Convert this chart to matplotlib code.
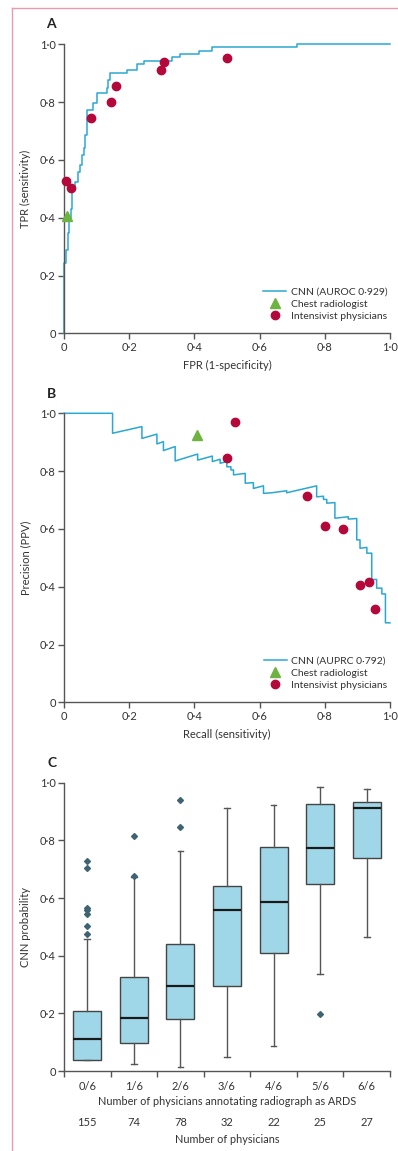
import matplotlib

matplotlib.use("Agg")
import matplotlib.pyplot as plt
from matplotlib.lines import Line2D
from matplotlib.ticker import FuncFormatter

# --- panel A: ROC curve (step corners) and reader operating points
roc_fpr = [0.0, 0.0, 0.007, 0.011, 0.016, 0.020, 0.024, 0.024, 0.035, 0.042, 0.050,
           0.055, 0.062, 0.065, 0.070, 0.089, 0.101, 0.132, 0.135, 0.140, 0.142,
           0.193, 0.224, 0.244, 0.331, 0.356, 0.415, 0.453, 0.714, 1.0]
roc_tpr = [0.0, 0.243, 0.288, 0.347, 0.400, 0.430, 0.461, 0.507, 0.525, 0.559, 0.582,
           0.617, 0.640, 0.686, 0.773, 0.796, 0.830, 0.848, 0.876, 0.888, 0.900,
           0.911, 0.932, 0.943, 0.955, 0.966, 0.978, 0.990, 1.0, 1.0]
roc_phys_fpr = [0.007, 0.020, 0.084, 0.143, 0.158, 0.297, 0.308, 0.500]
roc_phys_tpr = [0.528, 0.502, 0.745, 0.801, 0.856, 0.910, 0.938, 0.954]
roc_rad_fpr = [0.009]
roc_rad_tpr = [0.407]

# --- panel B: precision-recall curve (polyline vertices) and reader points
pr_recall = [0.0, 0.149, 0.149, 0.239, 0.239, 0.285, 0.285, 0.305, 0.305, 0.341, 0.341,
             0.410, 0.410, 0.455, 0.455, 0.479, 0.479, 0.4995, 0.4995, 0.512, 0.512,
             0.520, 0.520, 0.556, 0.556, 0.581, 0.581, 0.612, 0.612, 0.637, 0.683,
             0.683, 0.775, 0.775, 0.796, 0.796, 0.806, 0.806, 0.831, 0.831, 0.872,
             0.872, 0.898, 0.898, 0.908, 0.908, 0.929, 0.929, 0.944, 0.944, 0.959,
             0.959, 0.975, 0.975, 0.986, 0.986, 1.0]
pr_precision = [1.0, 1.0, 0.931, 0.954, 0.913, 0.928, 0.894, 0.902, 0.871, 0.885, 0.835,
                0.859, 0.838, 0.852, 0.833, 0.841, 0.827, 0.833, 0.815, 0.815, 0.804,
                0.804, 0.787, 0.792, 0.758, 0.760, 0.740, 0.749, 0.723, 0.725, 0.732,
                0.725, 0.749, 0.711, 0.713, 0.702, 0.702, 0.689, 0.691, 0.637, 0.642,
                0.634, 0.636, 0.562, 0.562, 0.533, 0.536, 0.516, 0.516, 0.425, 0.425,
                0.395, 0.395, 0.375, 0.375, 0.275, 0.275]
pr_phys_recall = [0.526, 0.500, 0.745, 0.801, 0.856, 0.909, 0.937, 0.954]
pr_phys_precision = [0.969, 0.846, 0.714, 0.611, 0.599, 0.407, 0.417, 0.323]
pr_rad_recall = [0.409]
pr_rad_precision = [0.926]

# --- panel C: CNN probability by physician agreement
groups = ["0/6", "1/6", "2/6", "3/6", "4/6", "5/6", "6/6"]
counts = [155, 74, 78, 32, 22, 25, 27]
q1 = [0.038, 0.098, 0.180, 0.296, 0.408, 0.649, 0.740]
med = [0.110, 0.185, 0.295, 0.558, 0.585, 0.773, 0.911]
q3 = [0.208, 0.327, 0.439, 0.643, 0.778, 0.925, 0.934]
whislo = [0.038, 0.024, 0.015, 0.050, 0.087, 0.336, 0.464]
whishi = [0.457, 0.674, 0.764, 0.913, 0.924, 0.986, 0.979]
fliers = [
    [0.730, 0.703, 0.566, 0.558, 0.543, 0.504, 0.476],
    [0.816, 0.676],
    [0.939, 0.846],
    [],
    [],
    [0.199],
    [],
]

CYAN = "#2aa8d2"
RED = "#b4083a"
GREEN = "#6cb33f"
AXIS = "#555555"
TEXT = "#333333"

plt.rcParams.update(
    {
        "font.family": ["Lato", "DejaVu Sans"],
        "font.size": 8,
        "text.color": TEXT,
        "axes.labelcolor": TEXT,
        "xtick.color": AXIS,
        "ytick.color": AXIS,
        "xtick.labelcolor": TEXT,
        "ytick.labelcolor": TEXT,
        "axes.edgecolor": AXIS,
        "axes.linewidth": 1.0,
    }
)


def dot_fmt(v, _pos=None):
    if abs(v) < 1e-9:
        return "0"
    return f"{v:.1f}".replace(".", "\u00b7")


def style_axes(ax):
    ax.spines["top"].set_visible(False)
    ax.spines["right"].set_visible(False)
    ax.tick_params(direction="out", length=4, width=1.0, pad=2, labelsize=8)
    ax.set_ylim(0, 1)
    ax.set_yticks([0, 0.2, 0.4, 0.6, 0.8, 1.0])
    ax.yaxis.set_major_formatter(FuncFormatter(dot_fmt))


W, H = 398, 1151
fig = plt.figure(figsize=(W / 100, H / 100), dpi=100)


def ax_rect(left, top, right, bottom):
    return [left / W, 1 - bottom / H, (right - left) / W, (bottom - top) / H]


# pink page frame
fig.add_artist(Line2D([12 / W, 1], [1 - 8 / H, 1 - 8 / H], color="#e99aae", lw=1.0))
fig.add_artist(Line2D([12 / W, 12 / W], [1 - 8 / H, 0], color="#e99aae", lw=1.0))

legend_kw = dict(loc="lower right", bbox_to_anchor=(1.02, 0.01), frameon=False,
                 handlelength=2.2, handletextpad=0.4, labelspacing=0.28, fontsize=7.5)

# ---------------- A
axA = fig.add_axes(ax_rect(64, 44.3, 390, 333.3))
style_axes(axA)
axA.set_xlim(0, 1)
axA.set_xticks([0, 0.2, 0.4, 0.6, 0.8, 1.0])
axA.xaxis.set_major_formatter(FuncFormatter(dot_fmt))
axA.plot(roc_fpr, roc_tpr, drawstyle="steps-post", color=CYAN, lw=1.1,
         label="CNN (AUROC 0\u00b7929)", clip_on=False)
axA.plot(roc_rad_fpr, roc_rad_tpr, "^", color=GREEN, ms=6.5, ls="none",
         label="Chest radiologist", clip_on=False, zorder=4)
axA.plot(roc_phys_fpr, roc_phys_tpr, "o", color=RED, ms=6, ls="none",
         label="Intensivist physicians", clip_on=False, zorder=4)
axA.set_xlabel("FPR (1-specificity)", labelpad=5)
axA.set_ylabel("TPR (sensitivity)", labelpad=6)
axA.legend(**legend_kw)
fig.text(50.7 / W, 1 - 24 / H, "A", fontsize=10, fontweight="bold",
         ha="center", va="center", color="#222222")

# ---------------- B
axB = fig.add_axes(ax_rect(64, 413.3, 390, 702.3))
style_axes(axB)
axB.set_xlim(0, 1)
axB.set_xticks([0, 0.2, 0.4, 0.6, 0.8, 1.0])
axB.xaxis.set_major_formatter(FuncFormatter(dot_fmt))
axB.plot(pr_recall, pr_precision, color=CYAN, lw=1.1,
         label="CNN (AUPRC 0\u00b7792)", clip_on=False)
axB.plot(pr_rad_recall, pr_rad_precision, "^", color=GREEN, ms=6.5, ls="none",
         label="Chest radiologist", clip_on=False, zorder=4)
axB.plot(pr_phys_recall, pr_phys_precision, "o", color=RED, ms=6, ls="none",
         label="Intensivist physicians", clip_on=False, zorder=4)
axB.set_xlabel("Recall (sensitivity)", labelpad=5)
axB.set_ylabel("Precision (PPV)", labelpad=6)
axB.legend(**legend_kw)
fig.text(51 / W, 1 - 394 / H, "B", fontsize=10, fontweight="bold",
         ha="center", va="center", color="#222222")

# ---------------- C
axC = fig.add_axes(ax_rect(64, 782.7, 390, 1071))
style_axes(axC)
stats = []
for i in range(len(groups)):
    stats.append(
        {
            "med": med[i],
            "q1": q1[i],
            "q3": q3[i],
            "whislo": whislo[i],
            "whishi": whishi[i],
            "fliers": fliers[i],
            "label": groups[i],
        }
    )
positions = list(range(len(groups)))
axC.bxp(
    stats,
    positions=positions,
    widths=0.6,
    capwidths=0.12,
    patch_artist=True,
    manage_ticks=False,
    boxprops=dict(facecolor="#9fd7e8", edgecolor="#444444", linewidth=1.0),
    medianprops=dict(color="#1a1a1a", linewidth=1.6),
    whiskerprops=dict(color="#555555", linewidth=1.0),
    capprops=dict(color="#555555", linewidth=1.0),
    flierprops=dict(marker="D", markersize=3, markerfacecolor="#3e6474",
                    markeredgecolor="#3e6474"),
)
axC.set_xlim(-0.5, len(groups) - 0.5)
axC.set_xticks([p - 0.5 for p in positions] + [len(groups) - 0.5])
axC.set_xticklabels([])
axC.set_xticks(positions, minor=True)
axC.set_xticklabels(groups, minor=True)
axC.tick_params(axis="x", which="minor", length=0, pad=7, labelsize=8)
axC.set_ylabel("CNN probability", labelpad=6)
xt = axC.get_xaxis_transform()
axC.text(3, -0.107, "Number of physicians annotating radiograph as ARDS",
         transform=xt, ha="center", va="center", fontsize=7.8)
for p, n in zip(positions, counts):
    axC.text(p, -0.177, str(n), transform=xt, ha="center", va="center", fontsize=8)
axC.text(3, -0.236, "Number of physicians", transform=xt, ha="center",
         va="center", fontsize=7.8)
fig.text(51.7 / W, 1 - 762.7 / H, "C", fontsize=10, fontweight="bold",
         ha="center", va="center", color="#222222")

fig.savefig("out.png", dpi=100)
